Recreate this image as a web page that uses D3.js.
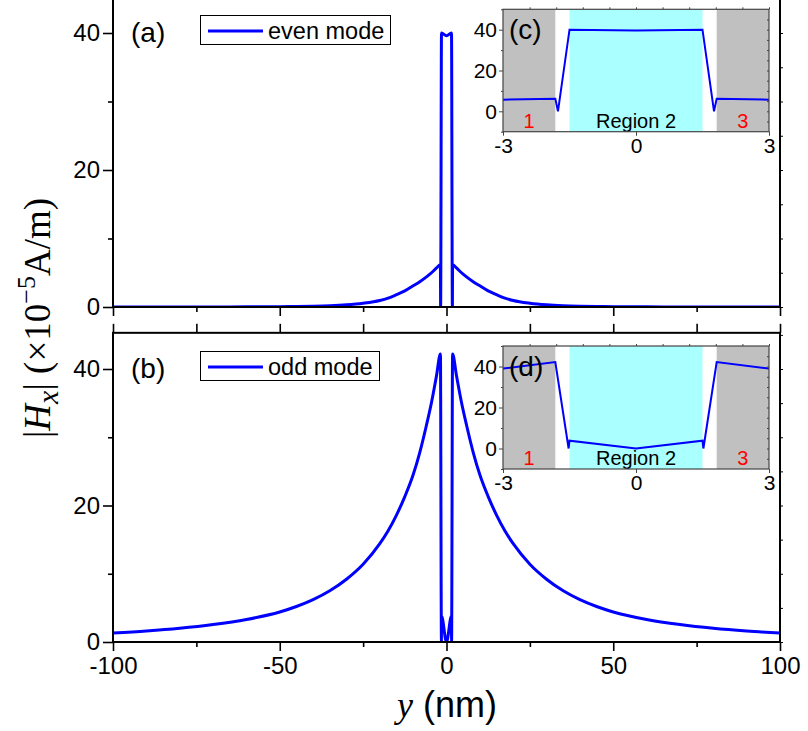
<!DOCTYPE html>
<meta charset="utf-8">
<style>
body { margin: 0; background: #fff; }
svg { display: block; font-family: "Liberation Sans", Arial, sans-serif; }
.tick text { font-family: "Liberation Sans", Arial, sans-serif; }
</style>
<svg width="808" height="731"></svg>
<script src="https://cdn.jsdelivr.net/npm/d3@7"></script>
<script>

// |Hx| (x10^-5 A/m) against y (nm)
var evenY = [-100, -90, -80, -70, -60, -50, -45, -40, -35, -30, -25, -20, -17.5, -15, -12.5, -10, -8, -6, -4.5, -3, -1.82, -1.76, -1.5, 0,
             1.5, 1.76, 1.82, 3, 4.5, 6, 8, 10, 12.5, 15, 17.5, 20, 25, 30, 35, 40, 45, 50, 60, 70, 80, 90, 100];
var evenH = [0, 0, 0, 0.01, 0.02, 0.05, 0.08, 0.12, 0.19, 0.32, 0.55, 0.95, 1.3, 1.8, 2.35, 3.1, 3.7, 4.4, 5.0, 5.7, 6.2, 0, 40, 39.6,
             40, 0, 6.2, 5.7, 5.0, 4.4, 3.7, 3.1, 2.35, 1.8, 1.3, 0.95, 0.55, 0.32, 0.19, 0.12, 0.08, 0.05, 0.02, 0.01, 0, 0, 0];

var oddY = [-100, -90, -80, -70, -60, -50, -45, -40, -35, -30, -25, -20, -17.5, -15, -12.5, -10, -8, -6, -4.5, -3, -1.82, -1.52, -1.5, 0,
            1.5, 1.52, 1.82, 3, 4.5, 6, 8, 10, 12.5, 15, 17.5, 20, 25, 30, 35, 40, 45, 50, 60, 70, 80, 90, 100];
var oddH = [1.3, 1.6, 2.0, 2.55, 3.3, 4.4, 5.2, 6.2, 7.5, 9.2, 11.4, 14.4, 16.3, 18.6, 21.3, 24.5, 27.8, 31.8, 35.1, 39.0, 42.2, 0, 3.8, 0,
            3.8, 0, 42.2, 39.0, 35.1, 31.8, 27.8, 24.5, 21.3, 18.6, 16.3, 14.4, 11.4, 9.2, 7.5, 6.2, 5.2, 4.4, 3.3, 2.55, 2.0, 1.6, 1.3];

var xMajor = [-100, -50, 0, 50, 100];
var xMinor = [-75, -25, 25, 75];
var yMajor = [0, 20, 40];
var yMinor = [10, 30];

var insetXMajor = [-3, 0, 3];
var insetYMajor = [0, 20, 40];
var regionBounds = [[-3, -1.82], [-1.5, 1.5], [1.82, 3]];
var regionNames = ["1", "Region 2", "3"];

var svg = d3.select("svg");

var x = d3.scaleLinear().domain([-100, 100]).range([113, 780]);
var yTop = d3.scaleLinear().domain([0, 40]).range([307, 33]);
var yBot = d3.scaleLinear().domain([0, 40]).range([642, 369]);

var blue = "#0000ff";

function pts(ys, hs) {
  return ys.map((d, i) => [d, hs[i]]);
}

function panel(y, yMax, data, tag, legendText, isBottom) {
  var g = svg.append("g");
  var top = y(yMax), bot = y(0);
  var id = "clip" + tag;

  g.append("clipPath").attr("id", id)
    .append("rect")
      .attr("x", x(-100)).attr("y", top)
      .attr("width", x(100) - x(-100)).attr("height", bot - top);

  g.append("path")
      .datum(data)
      .attr("clip-path", "url(#" + id + ")")
      .attr("fill", "none")
      .attr("stroke", blue)
      .attr("stroke-width", 3)
      .attr("stroke-linejoin", "round")
      .attr("d", d3.line().curve(d3.curveMonotoneX).x(d => x(d[0])).y(d => y(d[1])));

  // left axis
  var la = g.append("g").attr("transform", "translate(" + x(-100) + ",0)");
  la.call(d3.axisLeft(y).tickValues(yMajor).tickSize(10).tickPadding(3).tickFormat(String));
  la.append("g").call(d3.axisLeft(y).tickValues(yMinor).tickSize(5).tickFormat(""));
  la.selectAll(".domain").remove();
  la.selectAll("line").attr("stroke-width", 1.6);
  la.selectAll("text").attr("font-size", 24).attr("fill", "#000");

  // right ticks
  var ra = g.append("g").attr("transform", "translate(" + x(100) + ",0)");
  ra.call(d3.axisRight(y).tickValues(d3.range(0, yMax, 5)).tickSize(3).tickFormat(""));
  ra.selectAll(".domain").remove();

  // bottom axis
  var ba = g.append("g").attr("transform", "translate(0," + bot + ")");
  ba.call(d3.axisBottom(x).tickValues(xMajor).tickSize(9).tickPadding(6)
    .tickFormat(isBottom ? String : ""));
  ba.append("g").call(d3.axisBottom(x).tickValues(xMinor).tickSize(5).tickFormat(""));
  ba.selectAll(".domain").remove();
  ba.selectAll("line").attr("stroke-width", 1.6);
  ba.selectAll("text").attr("font-size", 24).attr("fill", "#000");

  if (isBottom) {
    var ta = g.append("g").attr("transform", "translate(0," + top + ")");
    ta.call(d3.axisTop(x).tickValues(xMajor).tickSize(9).tickFormat(""));
    ta.append("g").call(d3.axisTop(x).tickValues(xMinor).tickSize(9).tickFormat(""));
    ta.selectAll(".domain").remove();
    ta.selectAll("line").attr("stroke-width", 1.6);
  }

  // frame
  g.append("rect")
      .attr("x", x(-100)).attr("y", top)
      .attr("width", x(100) - x(-100)).attr("height", bot - top)
      .attr("fill", "none").attr("stroke", "#000").attr("stroke-width", 2);

  // panel letter + legend
  g.append("text")
      .attr("x", 131).attr("y", y(40) + 9)
      .attr("font-size", 28)
      .text("(" + tag + ")");

  var lg = g.append("g").attr("transform", "translate(0," + (y(40) - 2) + ")");
  var lw = isBottom ? 179 : 190;
  lg.append("rect")
      .attr("x", 200.5).attr("y", -15.5)
      .attr("width", lw).attr("height", 29)
      .attr("fill", "#fff").attr("stroke", "#000").attr("stroke-width", 1);
  lg.append("line")
      .attr("x1", 208).attr("x2", 263).attr("y1", 0).attr("y2", 0)
      .attr("stroke", blue).attr("stroke-width", 3);
  lg.append("text")
      .attr("x", 268).attr("y", 8)
      .attr("font-size", 23.5)
      .text(legendText);
}

panel(yTop, 45.2, pts(evenY, evenH), "a", "even mode", false);
panel(yBot, 45.3, pts(oddY, oddH), "b", "odd mode", true);

// insets
function inset(y0, y1, data, tag) {
  var ix = d3.scaleLinear().domain([-3, 3]).range([503, 769]);
  var iy = d3.scaleLinear().domain([-10, 50]).range([y1, y0]);
  var g = svg.append("g");
  var id = "iclip" + tag;

  g.append("rect")
      .attr("x", ix(-3)).attr("y", iy(50))
      .attr("width", ix(3) - ix(-3)).attr("height", iy(-10) - iy(50))
      .attr("fill", "#fff");

  g.selectAll(".region")
    .data(regionBounds)
    .join("rect")
      .attr("x", d => ix(d[0]))
      .attr("y", iy(50))
      .attr("width", d => ix(d[1]) - ix(d[0]))
      .attr("height", iy(-10) - iy(50))
      .attr("fill", (d, i) => i === 1 ? "#aaffff" : "#c0c0c0");

  g.append("clipPath").attr("id", id)
    .append("rect")
      .attr("x", ix(-3)).attr("y", iy(50))
      .attr("width", ix(3) - ix(-3)).attr("height", iy(-10) - iy(50));

  g.append("path")
      .datum(data.filter(d => d[0] >= -4.5 && d[0] <= 4.5))
      .attr("clip-path", "url(#" + id + ")")
      .attr("fill", "none")
      .attr("stroke", blue)
      .attr("stroke-width", 2)
      .attr("d", d3.line().x(d => ix(d[0])).y(d => iy(d[1])));

  g.selectAll(".rlab")
    .data(regionNames)
    .join("text")
      .attr("x", (d, i) => ix((regionBounds[i][0] + regionBounds[i][1]) / 2))
      .attr("y", iy(-10) - 4)
      .attr("text-anchor", "middle")
      .attr("font-size", 20)
      .attr("fill", (d, i) => i === 1 ? "#000" : "#ff0000")
      .text(d => d);

  g.append("text")
      .attr("x", 509).attr("y", iy(40) + 9)
      .attr("font-size", 28)
      .text("(" + tag + ")");

  var grey = "#444";
  var la = g.append("g").attr("transform", "translate(" + ix(-3) + ",0)");
  la.call(d3.axisLeft(iy).tickValues(insetYMajor).tickSize(4).tickPadding(2).tickFormat(String));
  la.append("g").call(d3.axisLeft(iy).tickValues([-10, 10, 30, 50]).tickSize(2).tickFormat(""));
  la.selectAll(".domain").remove();

  var ra = g.append("g").attr("transform", "translate(" + ix(3) + ",0)");
  ra.call(d3.axisLeft(iy).tickValues(d3.range(-5, 50, 5)).tickSize(2).tickFormat(""));
  ra.selectAll(".domain").remove();

  var ba = g.append("g").attr("transform", "translate(0," + iy(-10) + ")");
  ba.call(d3.axisBottom(ix).tickValues(insetXMajor).tickSize(4).tickPadding(2).tickFormat(String));
  ba.selectAll(".domain").remove();

  var ta = g.append("g").attr("transform", "translate(0," + iy(50) + ")");
  ta.call(d3.axisTop(ix).tickValues(d3.range(-2.4, 3, 0.6)).tickSize(2).tickFormat(""));
  ta.selectAll(".domain").remove();

  g.selectAll(".tick line").attr("stroke", grey);
  g.selectAll(".tick text").attr("font-size", 21).attr("fill", "#000");

  g.append("rect")
      .attr("x", ix(-3)).attr("y", iy(50))
      .attr("width", ix(3) - ix(-3)).attr("height", iy(-10) - iy(50))
      .attr("fill", "none").attr("stroke", grey).attr("stroke-width", 1.2);
}

inset(9.3, 131.7, pts(evenY, evenH), "c");
inset(346, 469, pts(oddY, oddH), "d");

// axis titles
var yl = svg.append("text")
    .attr("transform", "translate(50,318) rotate(-90)")
    .attr("text-anchor", "middle")
    .attr("font-family", "'Liberation Serif', 'Times New Roman', serif")
    .attr("font-size", 37);
yl.append("tspan").text("|");
yl.append("tspan").attr("font-style", "italic").text("H");
yl.append("tspan").attr("font-style", "italic").attr("font-size", 30).attr("dy", 8).text("x");
yl.append("tspan").attr("dy", -8).text("| (\u00d710");
yl.append("tspan").attr("font-size", 26).attr("dy", -15).text("\u22125");
yl.append("tspan").attr("dy", 15).text("A/m)");

var xl = svg.append("text")
    .attr("x", 447).attr("y", 717)
    .attr("text-anchor", "middle")
    .attr("font-size", 36);
xl.append("tspan")
    .attr("font-family", "'Liberation Serif', 'Times New Roman', serif")
    .attr("font-style", "italic")
    .text("y");
xl.append("tspan").text(" (nm)");

</script>
